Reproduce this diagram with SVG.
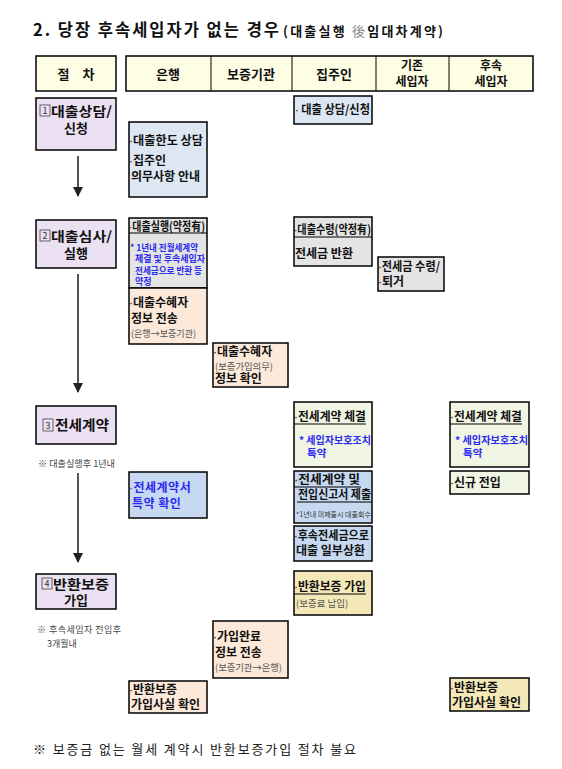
<svg xmlns="http://www.w3.org/2000/svg" width="562" height="769" viewBox="0 0 562 769">
<defs>
<style>
text{font-family:"Noto Sans CJK KR","Noto Sans",sans-serif;}
.b{font-weight:700;fill:#111;}
.box{stroke:#000;stroke-width:1.5;}
.hd{fill:#fefee4;}
.st{fill:#ebe1f2;}
.lb{fill:#dde7f3;}
.bl{fill:#c6d9f0;}
.gr{fill:#e4e4e4;}
.pe{fill:#fde9da;}
.gn{fill:#f1f5e4;}
.tn{fill:#f4e8b9;}
.t{font-size:12px;font-weight:700;fill:#111;}
.s{font-size:9.5px;fill:#555;}
.blue{fill:#2b2bf0;font-weight:700;}
.d{font-family:"Liberation Sans",sans-serif;font-weight:400;}
.ul{stroke:#000;stroke-width:1;}
.num{fill:none;stroke:#444;stroke-width:0.8;}
.nt{font-size:9px;fill:#444;}
.conn line{stroke:#555;stroke-width:2;}
</style>
<marker id="ah" viewBox="0 0 10 10" refX="9" refY="5" markerWidth="5" markerHeight="5" orient="auto" markerUnits="strokeWidth">
<path d="M0,0 L10,5 L0,10 z" fill="#222"/>
</marker>
</defs>
<rect width="562" height="769" fill="#fff"/>

<g id="title">
<text class="b" x="33" y="36" font-size="16.5" textLength="246" lengthAdjust="spacing">2. 당장 후속세입자가 없는 경우</text>
<text class="b" x="283" y="36" font-size="13" textLength="160" lengthAdjust="spacing">(대출실행 <tspan fill="#888" font-weight="400">後</tspan>임대차계약)</text>
</g>

<g id="header">
<rect class="box hd" x="36" y="56" width="80" height="35"/>
<text class="b" x="76" y="79" font-size="13" text-anchor="middle">절　차</text>
<rect class="box hd" x="126" y="56" width="407" height="35"/>
<line class="ul" x1="211" y1="56" x2="211" y2="91" stroke-width="1.5"/>
<line class="ul" x1="292" y1="56" x2="292" y2="91" stroke-width="1.5"/>
<line class="ul" x1="376" y1="56" x2="376" y2="91" stroke-width="1.5"/>
<line class="ul" x1="449" y1="56" x2="449" y2="91" stroke-width="1.5"/>
<text class="b" x="168" y="79" font-size="13" text-anchor="middle">은행</text>
<text class="b" x="251" y="79" font-size="13" text-anchor="middle">보증기관</text>
<text class="b" x="334" y="79" font-size="13" text-anchor="middle">집주인</text>
<text class="b" x="412" y="70" font-size="12" text-anchor="middle">기존</text>
<text class="b" x="412" y="86" font-size="12" text-anchor="middle">세입자</text>
<text class="b" x="491" y="70" font-size="12" text-anchor="middle">후속</text>
<text class="b" x="491" y="86" font-size="12" text-anchor="middle">세입자</text>
</g>

<g id="step1">
<rect class="box st" x="36" y="98" width="80" height="52"/>
<rect class="num" x="40" y="105" width="10" height="11"/>
<text x="45" y="114" font-size="9" text-anchor="middle" fill="#333">1</text>
<text class="b" x="51" y="116" font-size="13" textLength="61" lengthAdjust="spacingAndGlyphs">대출상담/</text>
<text class="b" x="76" y="133" font-size="13" text-anchor="middle">신청</text>
</g>

<g id="step2">
<rect class="box st" x="36" y="220" width="80" height="48"/>
<rect class="num" x="40" y="230" width="10" height="11"/>
<text x="45" y="239" font-size="9" text-anchor="middle" fill="#333">2</text>
<text class="b" x="51" y="241" font-size="13" textLength="61" lengthAdjust="spacingAndGlyphs">대출심사/</text>
<text class="b" x="76" y="258" font-size="13" text-anchor="middle">실행</text>
</g>

<g id="step3">
<rect class="box st" x="36" y="406" width="80" height="38"/>
<rect class="num" x="43" y="419" width="10" height="12"/>
<text x="48" y="429" font-size="9.5" text-anchor="middle" fill="#333">3</text>
<text class="b" x="55" y="430" font-size="14" textLength="54" lengthAdjust="spacingAndGlyphs">전세계약</text>
<text class="nt" x="38" y="467" textLength="77" lengthAdjust="spacingAndGlyphs">※ 대출실행후 1년내</text>
</g>

<g id="step4">
<rect class="box st" x="36" y="574" width="80" height="35"/>
<rect class="num" x="42" y="578" width="10" height="11"/>
<text x="47" y="587" font-size="9" text-anchor="middle" fill="#333">4</text>
<text class="b" x="53" y="589" font-size="13" textLength="56" lengthAdjust="spacingAndGlyphs">반환보증</text>
<text class="b" x="76" y="605" font-size="13" text-anchor="middle">가입</text>
<text class="nt" x="37" y="633" textLength="84" lengthAdjust="spacing">※ 후속세입자 전입후</text>
<text class="nt" x="47" y="647">3개월내</text>
</g>

<g id="connectors" class="conn">
<line x1="78" y1="156" x2="78" y2="196" marker-end="url(#ah)"/>
<line x1="78" y1="274" x2="78" y2="392" marker-end="url(#ah)"/>
<line x1="78" y1="473" x2="78" y2="562" marker-end="url(#ah)"/>
</g>

<g id="bank-consult">
<rect class="box lb" x="129" y="122" width="78" height="75"/>
<text class="t" x="129" y="145" textLength="74" lengthAdjust="spacingAndGlyphs"><tspan class="d">·</tspan>대출한도 상담</text>
<text class="t" x="129" y="165"><tspan class="d">·</tspan>집주인</text>
<text class="t" x="131" y="181">의무사항 안내</text>
</g>

<g id="landlord-apply">
<rect class="box lb" x="294" y="96" width="78" height="28"/>
<text class="t" x="295" y="114" font-size="10.5" textLength="75" lengthAdjust="spacingAndGlyphs"><tspan class="d">·</tspan> 대출 상담/신청</text>
</g>

<g id="bank-exec">
<rect class="box gr" x="129" y="218" width="78" height="70"/>
<text class="t" x="129" y="231" font-size="10.5" textLength="76" lengthAdjust="spacingAndGlyphs"><tspan class="d">·</tspan>대출실행(약정有)</text>
<line class="ul" x1="129" y1="233" x2="207" y2="233"/>
<g font-size="9">
<text class="blue" x="130" y="251" textLength="68" lengthAdjust="spacingAndGlyphs">* 1년내 전월세계약</text>
<text class="blue" x="135" y="262" textLength="70" lengthAdjust="spacingAndGlyphs">체결 및 후속세입자</text>
<text class="blue" x="135" y="274" textLength="67" lengthAdjust="spacingAndGlyphs">전세금으로 반환 등</text>
<text class="blue" x="135" y="285">약정</text>
</g>
</g>

<g id="bank-send">
<rect class="box pe" x="129" y="288" width="78" height="56"/>
<text class="t" x="129" y="307" font-size="12.5"><tspan class="d">·</tspan>대출수혜자</text>
<text class="t" x="131" y="323" font-size="12.5">정보 전송</text>
<text class="s" x="131" y="337" textLength="65" lengthAdjust="spacingAndGlyphs">(은행→보증기관)</text>
</g>

<g id="guarantor-check">
<rect class="box pe" x="213" y="343" width="75" height="44"/>
<text class="t" x="213" y="356" font-size="11.5"><tspan class="d">·</tspan>대출수혜자</text>
<text class="s" x="215" y="370" font-size="8.5" textLength="58" lengthAdjust="spacingAndGlyphs">(보증가입의무)</text>
<text class="t" x="215" y="383" font-size="11.5">정보 확인</text>
</g>

<g id="landlord-receive">
<rect class="box gr" x="294" y="217" width="78" height="49"/>
<text class="t" x="294" y="234" font-size="10.5" textLength="77" lengthAdjust="spacingAndGlyphs"><tspan class="d">·</tspan>대출수령(약정有)</text>
<line class="ul" x1="294" y1="237" x2="372" y2="237"/>
<text class="t" x="295" y="258">전세금 반환</text>
</g>

<g id="tenant-leave">
<rect class="box gr" x="378" y="257" width="66" height="34"/>
<text class="t" x="378" y="271" font-size="11.5" textLength="62" lengthAdjust="spacingAndGlyphs"><tspan class="d">·</tspan>전세금 수령/</text>
<text class="t" x="378" y="286" font-size="11.5"><tspan class="d">·</tspan>퇴거</text>
</g>

<g id="bank-contract">
<rect class="box bl" x="129" y="472" width="78" height="46"/>
<text class="t blue" x="129" y="492" font-size="12.5" letter-spacing="0.5"><tspan class="d">·</tspan>전세계약서</text>
<text class="t blue" x="132" y="508" font-size="12.5" letter-spacing="0.5">특약 확인</text>
</g>

<g id="landlord-contract">
<rect class="box gn" x="294" y="402" width="78" height="65"/>
<text class="t" x="294" y="421" font-size="11.5" textLength="72" lengthAdjust="spacingAndGlyphs"><tspan class="d">·</tspan>전세계약 체결</text>
<line class="ul" x1="294" y1="424" x2="366" y2="424"/>
<text class="blue" x="299" y="444" font-size="10.5" textLength="72" lengthAdjust="spacingAndGlyphs">* 세입자보호조치</text>
<text class="blue" x="307" y="457" font-size="10.5">특약</text>
</g>

<g id="newtenant-contract">
<rect class="box gn" x="450" y="402" width="79" height="65"/>
<text class="t" x="450" y="421" font-size="11.5" textLength="72" lengthAdjust="spacingAndGlyphs"><tspan class="d">·</tspan>전세계약 체결</text>
<line class="ul" x1="450" y1="424" x2="522" y2="424"/>
<text class="blue" x="455" y="444" font-size="10.5" textLength="73" lengthAdjust="spacingAndGlyphs">* 세입자보호조치</text>
<text class="blue" x="463" y="457" font-size="10.5">특약</text>
</g>

<g id="landlord-submit">
<rect class="box bl" x="294" y="471" width="78" height="52"/>
<text class="t" x="294" y="484" font-size="11.5" textLength="66" lengthAdjust="spacingAndGlyphs"><tspan class="d">·</tspan>전세계약 및</text>
<line class="ul" x1="294" y1="487" x2="361" y2="487"/>
<text class="t" x="298" y="499" font-size="11.5" textLength="73" lengthAdjust="spacingAndGlyphs">전입신고서 제출</text>
<line class="ul" x1="297" y1="502" x2="372" y2="502"/>
<text x="296" y="517" font-size="7" fill="#333" textLength="75" lengthAdjust="spacingAndGlyphs">*1년내 미제출시 대출회수</text>
</g>

<g id="landlord-repay">
<rect class="box bl" x="294" y="526" width="78" height="35"/>
<text class="t" x="294" y="540" font-size="11.5" textLength="75" lengthAdjust="spacingAndGlyphs"><tspan class="d">·</tspan>후속전세금으로</text>
<text class="t" x="296" y="555" font-size="11.5">대출 일부상환</text>
</g>

<g id="newtenant-move">
<rect class="box gn" x="450" y="471" width="79" height="23"/>
<text class="t" x="450" y="487"><tspan class="d">·</tspan>신규 전입</text>
</g>

<g id="landlord-guarantee">
<rect class="box tn" x="294" y="571" width="78" height="44"/>
<text class="t" x="294" y="591" font-size="11.5" textLength="72" lengthAdjust="spacingAndGlyphs"><tspan class="d">·</tspan>반환보증 가입</text>
<line class="ul" x1="294" y1="594" x2="366" y2="594"/>
<text class="s" x="296" y="607">(보증료 납입)</text>
</g>

<g id="guarantor-send">
<rect class="box pe" x="213" y="621" width="75" height="57"/>
<text class="t" x="213" y="641" font-size="12.5"><tspan class="d">·</tspan>가입완료</text>
<text class="t" x="215" y="657" font-size="12.5">정보 전송</text>
<text class="s" x="215" y="671" textLength="67" lengthAdjust="spacingAndGlyphs">(보증기관→은행)</text>
</g>

<g id="bank-guarantee">
<rect class="box pe" x="129" y="681" width="78" height="32"/>
<text class="t" x="129" y="694" font-size="12"><tspan class="d">·</tspan>반환보증</text>
<text class="t" x="131" y="709" font-size="12">가입사실 확인</text>
</g>

<g id="newtenant-guarantee">
<rect class="box tn" x="450" y="678" width="79" height="33"/>
<text class="t" x="450" y="692" font-size="12"><tspan class="d">·</tspan>반환보증</text>
<text class="t" x="452" y="707" font-size="12">가입사실 확인</text>
</g>

<g id="footer">
<text x="33" y="754" font-size="13" fill="#222" textLength="323" lengthAdjust="spacing">※ 보증금 없는 월세 계약시 반환보증가입 절차 불요</text>
</g>
</svg>
